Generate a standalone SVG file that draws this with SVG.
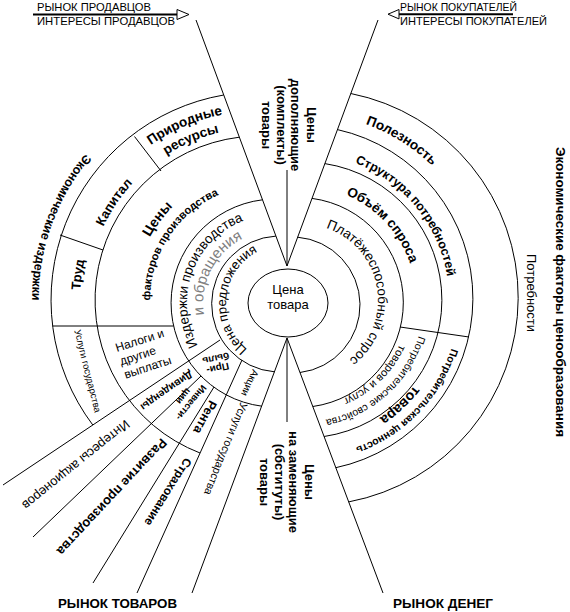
<svg xmlns="http://www.w3.org/2000/svg" width="570" height="612" viewBox="0 0 570 612">
<defs>
<style>
.ln{fill:none;stroke:#000;stroke-width:1}
.t{font-family:"Liberation Sans",Arial,sans-serif;fill:#000}
.b{font-weight:bold}
.c{dominant-baseline:central;text-anchor:middle}
.m{text-anchor:middle}
</style>
<path id="pPrir1" d="M71.4,277 A189,189 0 0 1 372.7,149.1"/>
<path id="pPrir2" d="M88.3,279 A172,172 0 0 1 362.5,162.6"/>
<path id="pKap" d="M104.4,375.4 A172,172 0 0 1 271,128.4"/>
<path id="pTrud" d="M148.8,441.1 A179,179 0 0 1 192,134"/>
<path id="pCeny" d="M144.4,351.2 A131,131 0 0 1 281,170"/>
<path id="pFakt" d="M173.2,369.2 A115,115 0 0 1 290.9,188"/>
<path id="pIzd" d="M231,379.2 A88,88 0 0 1 290.3,216.3"/>
<path id="pObr" d="M231.7,360.5 A72,72 0 0 1 296.1,234.2"/>
<path id="pCp" d="M273.7,361.9 A59,59 0 0 1 286,245"/>
<path id="pEcon" d="M219.6,76.5 A227,227 0 0 0 85.1,445.9"/>
<path id="pPol" d="M214.2,134.9 A187,187 0 0 1 488.9,306.5"/>
<path id="pStr" d="M254.1,161 A147,147 0 0 1 428,375.7"/>
<path id="pOb" d="M257.5,195.1 A114,114 0 0 1 403.6,351.8"/>
<path id="pPlat" d="M295.4,224.3 A76,76 0 0 1 321.7,373.4"/>
<path id="pPs" d="M415.1,254.3 A122,122 0 0 1 244.7,407.7"/>
<path id="pTu" d="M399.8,256.5 A107,107 0 0 1 255.1,396.2"/>
<path id="pPc" d="M443.1,231.2 A157,157 0 0 1 238.1,443.4"/>
<path id="pTov" d="M439.4,268.3 A141,141 0 0 1 260.8,434.8"/>
</defs>
<rect width="570" height="612" fill="#fff"/>

<g id="connectors" class="ln">
<path d="M196,20 L287,266 L378,20"/>
<path d="M192,593 L287,338 L383,593"/>
<path d="M287,170 V266 M287,338 V422"/>
<path d="M275.9,236.1 A68,68 0 0 0 274.5,371.8"/>
<path d="M262.5,199.8 A104,104 0 0 0 261.9,406.2"/>
<path d="M239.3,137.2 A164,164 0 0 0 200,453"/>
<path d="M223.7,95 A208,208 0 0 0 92.8,425"/>
<path d="M297.6,237.2 A68,68 0 0 1 300,372.5"/>
<path d="M312,198.4 A105,105 0 0 1 312.8,406.5"/>
<path d="M324.9,163.6 A138,138 0 0 1 324.1,436.5"/>
<path d="M337.5,129.6 A173,173 0 0 1 335.8,467.7"/>
<path d="M350.8,93.5 A208,208 0 0 1 348.7,501.9"/>
<path d="M52.6,326 H173.6"/>
<path d="M134.5,136.5 L161,171"/>
<path d="M60,235 L103,250"/>
<path d="M220,340 L3,485"/>
<path d="M201,376 L33,537"/>
<path d="M214,387 L93,583"/>
<path d="M242,360 L137,593"/>
<path d="M400,327 L469,337"/>
</g>

<g id="header-sellers">
<path d="M33,14.5 H177" stroke="#000" stroke-width="2" fill="none"/>
<path d="M177,9.5 L189,14.5 L177,19.5 Z" fill="#fff" stroke="#000" stroke-width="1"/>
<text class="t" x="37" y="10.5" font-size="10.5" textLength="114" lengthAdjust="spacingAndGlyphs">РЫНОК ПРОДАВЦОВ</text>
<text class="t" x="37" y="24.5" font-size="10.5" textLength="138" lengthAdjust="spacingAndGlyphs">ИНТЕРЕСЫ ПРОДАВЦОВ</text>
</g>
<g id="header-buyers">
<path d="M399,14.2 H513" stroke="#000" stroke-width="2" fill="none"/>
<path d="M399,9.5 L388,14.2 L399,18.9 Z" fill="#fff" stroke="#000" stroke-width="1"/>
<text class="t" x="400" y="10.5" font-size="10.5" textLength="117" lengthAdjust="spacingAndGlyphs">РЫНОК ПОКУПАТЕЛЕЙ</text>
<text class="t" x="400" y="24.5" font-size="10.5" textLength="147" lengthAdjust="spacingAndGlyphs">ИНТЕРЕСЫ ПОКУПАТЕЛЕЙ</text>
</g>

<g id="center-node">
<ellipse cx="288" cy="303" rx="40" ry="34" fill="#fff" stroke="#000" stroke-width="1"/>
<text class="t m" x="288" y="294" font-size="13">Цена</text>
<text class="t m" x="288" y="308.5" font-size="13">товара</text>
</g>

<g id="complements" class="t b m" font-size="13">
<text transform="translate(307,125) rotate(90)">Цены</text>
<text transform="translate(291,125) rotate(90)">дополняющие</text>
<text transform="translate(277,125) rotate(90)">(комплекты)</text>
<text transform="translate(262,125) rotate(90)">товары</text>
</g>
<g id="substitutes" class="t b m" font-size="13">
<text transform="translate(305,482) rotate(90)">Цены</text>
<text transform="translate(289,482) rotate(90)">на заменяющие</text>
<text transform="translate(275,482) rotate(90)">(сбституты)</text>
<text transform="translate(260,482) rotate(90)">товары</text>
</g>

<g id="supply-side">
<text class="t b" font-size="12.5"><textPath href="#pEcon" startOffset="50%" text-anchor="middle">Экономические издержки</textPath></text>
<text class="t b" font-size="13.5"><textPath href="#pPrir1" startOffset="50%" text-anchor="middle">Природные</textPath></text>
<text class="t b" font-size="13.5"><textPath href="#pPrir2" startOffset="50%" text-anchor="middle">ресурсы</textPath></text>
<text class="t b" font-size="13"><textPath href="#pKap" startOffset="50%" text-anchor="middle">Капитал</textPath></text>
<text class="t b" font-size="13"><textPath href="#pTrud" startOffset="50%" text-anchor="middle">Труд</textPath></text>
<text class="t b" font-size="14"><textPath href="#pCeny" startOffset="50%" text-anchor="middle">Цены</textPath></text>
<text class="t b" font-size="11"><textPath href="#pFakt" startOffset="50%" text-anchor="middle">факторов производства</textPath></text>
<text class="t" font-size="13.5"><textPath href="#pIzd" startOffset="50%" text-anchor="middle">Издержки производства</textPath></text>
<text class="t" font-size="15" style="fill:#808080"><textPath href="#pObr" startOffset="50%" text-anchor="middle">и обращения</textPath></text>
<text class="t" font-size="13"><textPath href="#pCp" startOffset="50%" text-anchor="middle">Цена предложения</textPath></text>
<text class="t c" font-size="9.5" transform="translate(88,371) rotate(76)">Услуги государства</text>
<g class="t" font-size="12" transform="translate(117,352) rotate(-18)">
<text x="0" y="0">Налоги и</text>
<text x="0" y="14">другие</text>
<text x="0" y="28">выплаты</text>
</g>
<text class="t b c" font-size="10.5" transform="translate(167,391) rotate(145)">Дивиденды</text>
<g class="t b m" font-size="9.5" transform="translate(188,400) rotate(129)">
<text y="-1">Инвести-</text>
<text y="9">ции</text>
</g>
<text class="t b c" font-size="12.5" transform="translate(205,417) rotate(118)">Рента</text>
<g class="t b m" font-size="10" transform="translate(217,364) rotate(168)">
<text y="-1">При-</text>
<text y="9">быль</text>
</g>
<text class="t c" font-size="10" transform="translate(250,383) rotate(115)">Акции</text>
<text class="t c" font-size="11" transform="translate(226,449) rotate(112)">Услуги государства</text>
<text class="t c" font-size="13" transform="translate(76,465) rotate(141)">Интересы акционеров</text>
<text class="t b c" font-size="13" transform="translate(112,497) rotate(133)">Развитие производства</text>
<text class="t b c" font-size="12" transform="translate(168,492) rotate(122)">Страхование</text>
</g>

<g id="demand-side">
<text class="t b" font-size="13.5"><textPath href="#pPol" startOffset="50%" text-anchor="middle">Полезность</textPath></text>
<text class="t b" font-size="12.5"><textPath href="#pStr" startOffset="50%" text-anchor="middle">Структура потребностей</textPath></text>
<text class="t b" font-size="13.5"><textPath href="#pOb" startOffset="50%" text-anchor="middle">Объём спроса</textPath></text>
<text class="t" font-size="13.5"><textPath href="#pPlat" startOffset="50%" text-anchor="middle">Платёжеспособный спрос</textPath></text>
<text class="t" font-size="10.5"><textPath href="#pPs" startOffset="50%" text-anchor="middle">Потребительские свойства</textPath></text>
<text class="t" font-size="11"><textPath href="#pTu" startOffset="50%" text-anchor="middle">товаров и услуг</textPath></text>
<text class="t b" font-size="10.5"><textPath href="#pPc" startOffset="50%" text-anchor="middle">Потребительская ценность</textPath></text>
<text class="t b" font-size="14"><textPath href="#pTov" startOffset="50%" text-anchor="middle">товара</textPath></text>
<text class="t m" font-size="13" transform="translate(527,293) rotate(90)">Потребности</text>
<text class="t b m" font-size="12.5" transform="translate(556,292) rotate(90)" textLength="290" lengthAdjust="spacingAndGlyphs">Экономические факторы ценообразования</text>
</g>

<g id="markets" class="t b" font-size="13.5">
<text x="58" y="608" textLength="119" lengthAdjust="spacingAndGlyphs">РЫНОК ТОВАРОВ</text>
<text x="393" y="608" textLength="100" lengthAdjust="spacingAndGlyphs">РЫНОК ДЕНЕГ</text>
</g>
</svg>
